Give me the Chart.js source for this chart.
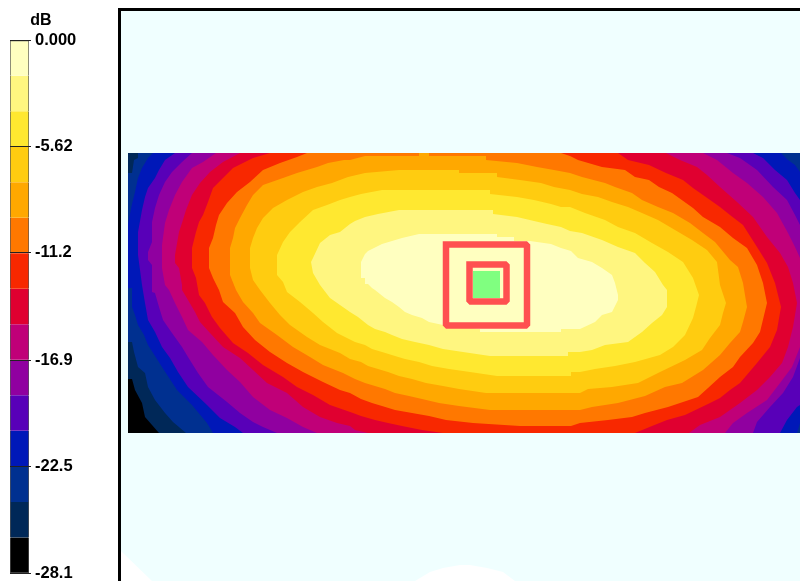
<!DOCTYPE html>
<html>
<head>
<meta charset="utf-8">
<style>
html,body{margin:0;padding:0;background:#fff;width:800px;height:581px;overflow:hidden}
canvas{position:absolute;left:0;top:0}
</style>
<script src="https://cdn.jsdelivr.net/npm/chart.js@4"></script>
</head>
<body>
<canvas id="bar" width="82" height="581" style="z-index:2"></canvas>
<canvas id="map" width="800" height="581"></canvas>
<script>
const unitLabel = 'dB';
const tickValues = [0, -5.62, -11.2, -16.9, -22.5, -28.1];
const tickLabels = ['0.000', '-5.62', '-11.2', '-16.9', '-22.5', '-28.1'];
const bandColors = ['#ffffc0','#fff680','#ffe830','#ffcc10','#ffa800','#ff7800','#f82800','#e00030','#c00078','#9000a0','#5800b8','#0018b8','#003090','#002858','#000000'];
const bandSteps = [-1.873,-1.873,-1.873,-1.873,-1.873,-1.873,-1.873,-1.873,-1.873,-1.873,-1.873,-1.873,-1.873,-1.873,-1.878];

const coverage = [[120,10],[800,10],[800,581],[515,581],[503,572],[487,568],[470,565],[460,565],[443,568],[430,572],[415,581],[152,581],[123,553],[120,550]];
const level00 = [[128,153],[800,153],[800,433],[128,433]];
const level01 = [[128,153],[800,153],[800,433],[159,433],[152,425],[145,417],[142,403],[135,390],[132,379],[128,379]];
const level02 = [[128,173],[132,173],[134,160],[138,158],[138,153],[800,153],[800,433],[186,433],[173,422],[165,413],[155,400],[148,387],[145,373],[138,367],[134,352],[132,342],[128,342]];
const level03 = [[128,224],[132,204],[135,192],[138,178],[142,168],[148,158],[153,153],[781,153],[788,160],[795,165],[800,172],[800,423],[797,433],[213,433],[207,423],[192,405],[177,390],[162,367],[148,345],[144,335],[138,325],[135,315],[132,307],[132,288],[128,288]];
const level04 = [[138,232],[142,210],[145,197],[148,188],[155,178],[159,170],[165,160],[175,153],[753,153],[763,158],[775,170],[787,180],[795,193],[800,200],[800,405],[797,407],[787,420],[780,433],[243,433],[235,427],[220,418],[207,405],[188,387],[178,372],[170,358],[162,347],[155,332],[148,320],[145,303],[142,285],[138,255]];
const level05 = [[152,222],[155,208],[159,195],[165,182],[172,172],[182,162],[192,153],[727,153],[740,158],[757,170],[773,187],[787,200],[795,215],[800,225],[800,358],[793,377],[783,393],[770,407],[757,422],[753,433],[277,433],[263,427],[253,422],[240,413],[227,402],[208,387],[198,373],[188,357],[182,347],[172,333],[163,320],[159,307],[155,293],[152,292],[152,265],[148,260],[148,252],[152,242]];
const level06 = [[162,245],[165,223],[169,210],[175,195],[182,182],[192,168],[203,162],[216,153],[703,153],[717,160],[733,173],[747,183],[763,197],[777,213],[788,233],[795,247],[800,258],[800,347],[792,367],[780,383],[767,400],[747,413],[733,423],[725,433],[317,433],[303,427],[287,418],[270,410],[253,397],[240,382],[227,370],[213,355],[202,342],[188,330],[182,317],[175,303],[169,290],[165,285],[162,268]];
const level07 = [[175,255],[179,232],[182,223],[186,210],[192,195],[200,183],[210,172],[223,162],[240,153],[666,153],[680,160],[697,167],[707,175],[720,187],[737,202],[753,217],[767,237],[780,253],[788,267],[793,283],[797,303],[793,327],[788,347],[782,363],[770,377],[757,390],[740,403],[720,417],[700,425],[689,433],[368,433],[355,430],[350,426],[337,423],[320,417],[303,407],[287,393],[267,383],[253,370],[240,358],[223,347],[210,333],[200,322],[195,312],[188,300],[182,290],[182,285],[179,268],[175,263]];
const level08 = [[192,248],[196,232],[199,222],[203,215],[208,202],[213,188],[223,178],[233,168],[253,158],[270,153],[618,153],[628,160],[649,165],[666,173],[683,180],[693,188],[703,195],[720,207],[730,215],[743,225],[757,247],[767,263],[775,283],[781,307],[777,330],[770,347],[757,363],[740,383],[730,390],[720,398],[708,404],[685,415],[667,420],[652,426],[635,433],[443,433],[422,430],[402,426],[388,423],[375,420],[361,416],[353,413],[330,405],[313,395],[297,387],[283,377],[263,365],[248,353],[233,343],[220,328],[212,317],[205,303],[199,295],[196,278],[192,268]];
const level09 = [[209,248],[213,238],[216,225],[219,215],[227,203],[237,192],[250,182],[263,170],[280,163],[297,157],[307,153],[561,153],[570,156],[578,160],[602,167],[625,170],[635,177],[649,180],[659,187],[672,193],[679,198],[693,208],[703,217],[720,227],[733,238],[747,248],[757,265],[763,283],[767,303],[760,332],[753,343],[740,357],[733,367],[720,377],[708,388],[698,397],[668,407],[645,413],[632,417],[608,420],[580,423],[571,426],[520,426],[473,423],[446,420],[429,416],[412,413],[395,410],[382,406],[372,403],[361,399],[350,393],[340,390],[323,382],[303,372],[287,363],[270,352],[255,340],[243,327],[235,313],[223,302],[219,290],[213,278],[209,268]];
const level10 = [[230,248],[233,238],[235,228],[240,218],[247,205],[253,195],[263,185],[283,178],[297,173],[317,167],[328,163],[344,160],[350,160],[365,156],[419,156],[419,153],[429,153],[429,156],[486,156],[486,160],[517,163],[537,167],[554,170],[570,173],[582,177],[605,183],[615,187],[632,193],[642,200],[658,207],[673,213],[690,223],[703,233],[715,242],[730,260],[738,267],[743,283],[747,307],[743,322],[740,332],[730,343],[720,355],[703,370],[682,383],[665,387],[645,396],[618,403],[592,407],[580,410],[490,410],[459,406],[439,403],[422,399],[409,396],[395,393],[385,389],[375,386],[365,383],[355,379],[343,373],[323,365],[310,357],[293,347],[277,335],[260,323],[253,313],[243,302],[236,290],[230,275]];
const level11 = [[250,248],[253,238],[257,228],[263,218],[273,208],[287,200],[303,192],[317,187],[332,183],[348,177],[365,173],[399,170],[459,170],[459,173],[497,173],[497,177],[520,180],[541,183],[554,187],[570,190],[582,194],[598,197],[612,202],[628,207],[642,213],[658,220],[675,230],[692,240],[707,250],[717,262],[720,285],[726,303],[723,313],[720,325],[710,338],[702,350],[685,360],[658,373],[638,383],[612,387],[588,389],[580,393],[486,393],[459,389],[443,386],[426,383],[412,379],[399,376],[388,372],[378,369],[368,366],[361,362],[350,359],[340,353],[320,345],[307,337],[290,325],[280,315],[270,303],[260,290],[253,280],[250,268]];
const level12 = [[277,255],[283,242],[290,232],[300,222],[313,210],[327,205],[340,200],[350,197],[361,194],[382,190],[490,190],[490,194],[517,197],[534,200],[551,204],[561,207],[570,207],[585,213],[605,220],[618,227],[635,233],[652,243],[668,252],[683,262],[693,278],[699,295],[696,307],[693,318],[685,335],[673,347],[660,355],[635,362],[615,366],[595,369],[580,372],[571,372],[571,376],[497,376],[470,372],[449,369],[432,366],[419,362],[405,359],[395,356],[382,352],[372,349],[365,345],[355,342],[337,333],[323,322],[313,313],[300,302],[287,292],[283,282],[277,275]];
const level13 = [[311,262],[313,258],[320,243],[330,235],[340,232],[350,224],[355,221],[365,217],[378,214],[399,210],[493,210],[493,214],[517,217],[534,221],[547,224],[561,227],[570,231],[582,233],[602,240],[618,247],[635,253],[645,263],[655,272],[663,285],[667,290],[667,307],[662,315],[652,323],[642,332],[635,337],[628,342],[605,345],[592,350],[580,352],[568,352],[568,356],[490,356],[463,352],[443,349],[429,345],[415,342],[402,339],[392,335],[385,332],[375,329],[368,325],[358,317],[350,312],[340,305],[330,298],[320,285],[313,273]];
const level14 = [[361,262],[365,254],[368,251],[382,244],[392,241],[402,238],[419,234],[497,234],[497,237],[514,237],[514,241],[530,241],[551,244],[561,248],[571,251],[578,258],[592,262],[602,268],[612,275],[615,283],[618,295],[618,300],[612,312],[602,315],[595,322],[580,329],[561,329],[561,332],[480,332],[480,329],[443,325],[429,322],[422,318],[412,315],[405,312],[399,307],[392,302],[385,298],[375,290],[372,288],[368,284],[365,284],[365,278],[361,278]];
const levels = [level00,level01,level02,level03,level04,level05,level06,level07,level08,level09,level10,level11,level12,level13,level14];

const markerFill = [[473,271],[500,271],[500,298],[473,298]];
const outerRing = [[446,244.5],[527,244.5],[527,325.5],[446,325.5],[446,244.5]];
const innerRing = [[469.5,264.5],[506.5,264.5],[506.5,301.5],[469.5,301.5],[469.5,264.5]];

function shape(points){
  let lo = 0, hi = 0;
  points.forEach((p,i)=>{ if(p[0]<points[lo][0]) lo=i; if(p[0]>points[hi][0]) hi=i; });
  const turned = points.slice(lo).concat(points.slice(0,lo));
  turned.push(turned[0], points[hi]);
  return turned.map(p=>({x:p[0],y:p[1]}));
}
function area(points,color,order){
  return {type:'scatter',data:shape(points),showLine:true,fill:'shape',backgroundColor:color,borderWidth:0,pointRadius:0,order:order};
}
function ring(points,order){
  return {type:'scatter',data:points.map(p=>({x:p[0],y:p[1]})),showLine:true,fill:false,borderColor:'#ff5050',borderWidth:6.5,borderJoinStyle:'bevel',borderCapStyle:'square',pointRadius:0,order:order};
}
const reversedColors = bandColors.slice().reverse();
const mapSets = [area(coverage,'#f0ffff',50)];
levels.forEach((lv,i)=>mapSets.push(area(lv,reversedColors[i],40-i)));
mapSets.push(area(markerFill,'#80ff80',3),ring(outerRing,2),ring(innerRing,1));

new Chart(document.getElementById('map'),{
  type:'scatter',
  data:{datasets:mapSets},
  options:{
    responsive:false,animation:false,
    layout:{padding:{left:119.5,top:9.5,right:0,bottom:0}},
    plugins:{legend:{display:false},tooltip:{enabled:false},title:{display:false}},
    scales:{
      x:{type:'linear',position:'top',min:119.5,max:800,ticks:{display:false},grid:{display:false,drawTicks:false},border:{display:true,color:'#000',width:3,z:2}},
      y:{type:'linear',position:'left',reverse:true,min:9.5,max:581,ticks:{display:false},grid:{display:false,drawTicks:false},border:{display:true,color:'#000',width:3,z:2}}
    }
  }
});

new Chart(document.getElementById('bar'),{
  type:'bar',
  data:{labels:[unitLabel],datasets:bandSteps.map((v,i)=>({
    data:[v],yAxisID:'y',xAxisID:'x',backgroundColor:bandColors[i],borderColor:'#555',
    borderWidth:{left:1,right:1,top:i===0?1:0,bottom:i===bandSteps.length-1?1:0},
    borderSkipped:false,barPercentage:1,categoryPercentage:1
  }))},
  options:{
    responsive:false,animation:false,
    layout:{padding:{left:0,top:0,right:0,bottom:8}},
    plugins:{legend:{display:false},tooltip:{enabled:false},
      title:{display:true,text:unitLabel,color:'#000',font:{family:'"Liberation Sans"',size:16,weight:'bold'},padding:{top:11,bottom:10}}},
    scales:{
      x:{stacked:true,display:false},
      y:{stacked:true,position:'right',min:-28.1,max:0,
        afterBuildTicks:s=>{s.ticks=tickValues.map(v=>({value:v}));},
        afterFit:s=>{s.width=53;s.paddingTop=0;s.paddingBottom=0;},
        grid:{color:'#222',z:1,tickLength:2,drawTicks:true},
        border:{display:false},
        ticks:{autoSkip:false,padding:4,color:'#000',font:{family:'"Liberation Sans"',size:16.5,weight:'bold'},
          callback:(v)=>tickLabels[tickValues.indexOf(v)]}
      },
      gutter:{axis:'y',position:'left',ticks:{display:false},grid:{display:false,drawTicks:false},border:{display:false},
        afterFit:s=>{s.width=10;s.paddingTop=0;s.paddingBottom=0;}}
    }
  }
});
</script>
</body>
</html>
